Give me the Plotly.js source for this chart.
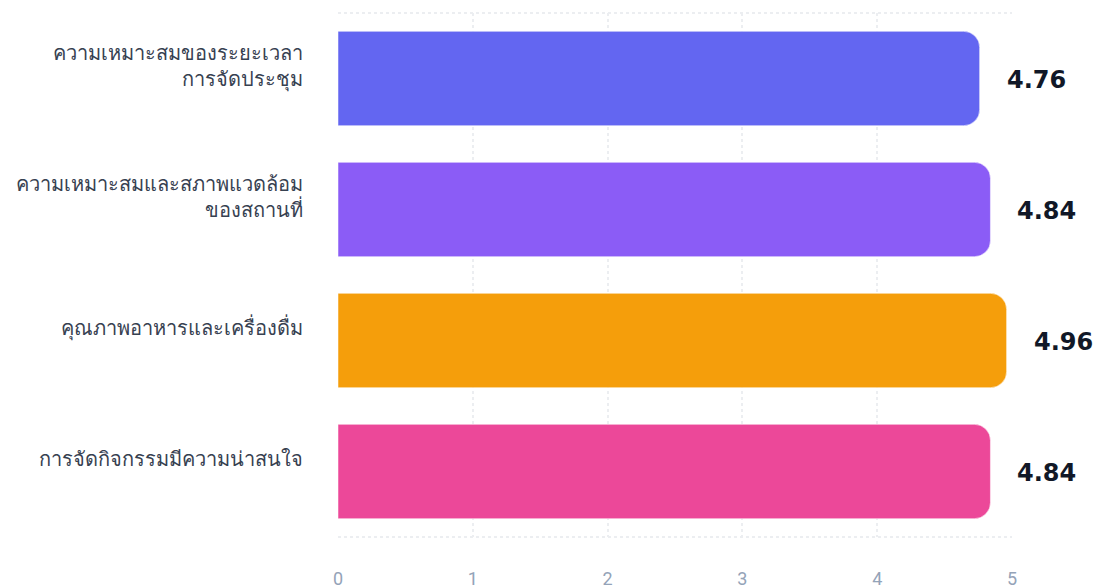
<!DOCTYPE html>
<html>
<head>
<meta charset="utf-8">
<script src="https://cdn.plot.ly/plotly-3.0.1.min.js"></script>
<style>html,body{margin:0;padding:0;background:#fff;}#chart{width:1101px;height:588px;}</style>
</head>
<body>
<div id="chart"></div>
<script>
const categories = [
  "ความเหมาะสมของระยะเวลา<br>การจัดประชุม",
  "ความเหมาะสมและสภาพแวดล้อม<br>ของสถานที่",
  "คุณภาพอาหารและเครื่องดื่ม",
  "การจัดกิจกรรมมีความน่าสนใจ"
];
const scores = [4.76, 4.84, 4.96, 4.84];
const barColors = ["#6366f1", "#8b5cf6", "#f59e0b", "#ec4899"];
const xTicks = [0, 1, 2, 3, 4, 5];

const trace = {
  type: "bar",
  orientation: "h",
  y: categories,
  x: scores,
  marker: { color: barColors, line: { color: "rgba(255,255,255,0.5)", width: 1 } },
  hoverinfo: "x"
};

const annotations = scores.map((v, i) => ({
  x: v, y: categories[i], xref: "x", yref: "y",
  text: v.toFixed(2), showarrow: false, xanchor: "left", xshift: 25, yshift: -1,
  font: { family: "DejaVu Sans, sans-serif", size: 24, color: "#111827", weight: 700 }
}));

const layout = {
  width: 1101, height: 588,
  margin: { l: 338, r: 89, t: 13, b: 51 },
  paper_bgcolor: "#ffffff", plot_bgcolor: "#ffffff",
  showlegend: false,
  bargap: 0.28,
  barcornerradius: 16,
  xaxis: {
    range: [0, 5], tickvals: xTicks, ticktext: xTicks.map(String),
    showgrid: true, gridcolor: "#eceef1", griddash: "dot", gridwidth: 2,
    zeroline: false, showline: false, ticks: "",
    ticklabelstandoff: 29,
    tickfont: { family: "Roboto, sans-serif", size: 18, color: "#94a3b8" },
    fixedrange: true
  },
  yaxis: {
    autorange: "reversed", type: "category",
    showgrid: false, zeroline: false, showline: false, ticks: "",
    ticklabelstandoff: 34, ticklabelshift: 13,
    tickfont: { family: "Noto Sans, sans-serif", size: 20, color: "#374151" },
    fixedrange: true
  },
  shapes: [
    { type: "line", xref: "paper", yref: "paper", x0: 0, x1: 1, y0: 1, y1: 1, line: { color: "#eceef1", width: 2, dash: "dot" }, layer: "below" },
    { type: "line", xref: "paper", yref: "paper", x0: 0, x1: 1, y0: 0, y1: 0, line: { color: "#eceef1", width: 2, dash: "dot" }, layer: "below" }
  ],
  annotations: annotations
};

Plotly.newPlot("chart", [trace], layout, { displayModeBar: false, staticPlot: true });
</script>
</body>
</html>
